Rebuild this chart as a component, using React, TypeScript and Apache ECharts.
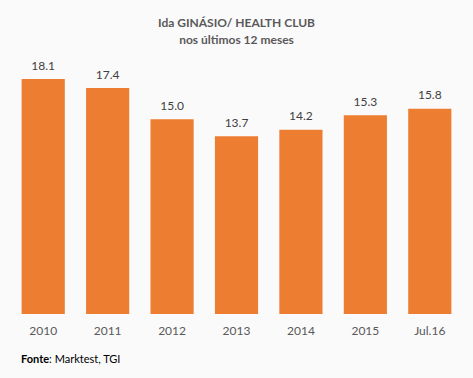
import React, { useEffect, useRef } from "react";
import * as echarts from "echarts";

const categories = ["2010", "2011", "2012", "2013", "2014", "2015", "Jul.16"];
const values = [18.1, 17.4, 15.0, 13.7, 14.2, 15.3, 15.8];
const titleLines = ["Ida GINÁSIO/ HEALTH CLUB", "nos últimos 12 meses"];
const sourceBold = "Fonte";
const sourceText = ": Marktest, TGI";

const FONT = "Lato, 'Open Sans', sans-serif";

export default function App() {
  const ref = useRef<HTMLDivElement>(null);
  useEffect(() => {
    document.body.style.margin = "0";
    const chart = echarts.init(ref.current!, undefined, { renderer: "svg" });
    chart.setOption({
      animation: false,
      backgroundColor: "#fafafa",
      title: {
        text: titleLines.join("\n"),
        left: "center",
        top: 9,
        textStyle: {
          fontFamily: FONT,
          fontSize: 12,
          fontWeight: "bold",
          color: "#595959",
          lineHeight: 17,
        },
      },
      grid: { left: 11, right: 11, top: 79, bottom: 64, containLabel: false },
      xAxis: {
        type: "category",
        data: categories,
        axisLine: { show: false },
        axisTick: { show: false },
        axisLabel: {
          fontFamily: FONT,
          fontSize: 12,
          color: "#595959",
          margin: 10,
        },
      },
      yAxis: {
        type: "value",
        min: 0,
        max: 18.1,
        show: false,
        splitLine: { show: false },
      },
      series: [
        {
          type: "bar",
          data: values,
          barCategoryGap: "33%",
          itemStyle: { color: "#ED7D31" },
          label: {
            show: true,
            position: "top",
            distance: 8,
            formatter: (p: any) => Number(p.value).toFixed(1),
            fontFamily: FONT,
            fontSize: 12,
            color: "#404040",
          },
        },
      ],
      graphic: [
        {
          type: "text",
          left: 21,
          top: 353,
          style: {
            text: `{b|${sourceBold}}{n|${sourceText}}`,
            rich: {
              b: { fontFamily: FONT, fontSize: 11, fontWeight: "bold", fill: "#000" },
              n: { fontFamily: FONT, fontSize: 11, fill: "#000" },
            },
          },
        },
      ],
    });
    return () => chart.dispose();
  }, []);
  return (
    <div
      ref={ref}
      style={{ position: "absolute", left: 0, top: 0, width: 473, height: 378 }}
    />
  );
}
